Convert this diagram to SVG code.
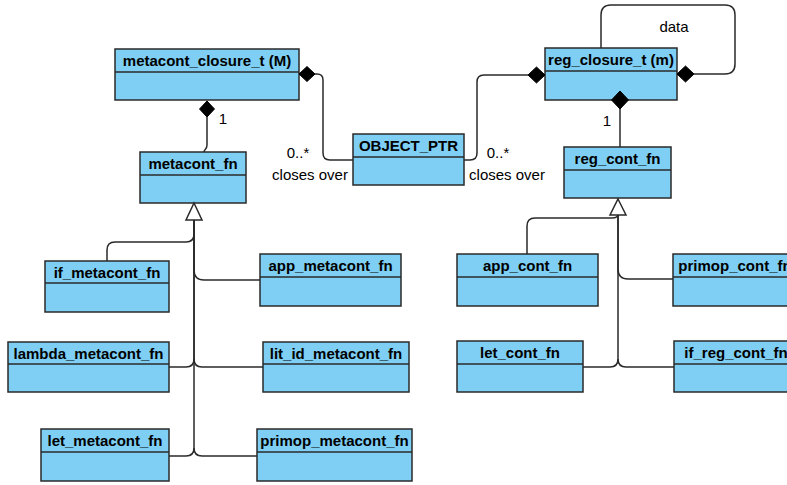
<svg xmlns="http://www.w3.org/2000/svg" width="787" height="485" viewBox="0 0 787 485">
<style>
.box{fill:#7ecff3;stroke:#2a2a2a;stroke-width:1.5}
.div{stroke:#2a2a2a;stroke-width:1.5}
.t{font-family:"Liberation Sans",Arial,sans-serif;font-weight:bold;font-size:15px;fill:#000;text-anchor:middle}
.l{font-family:"Liberation Sans",Arial,sans-serif;font-size:15px;fill:#000;text-anchor:middle}
.c{fill:none;stroke:#2a2a2a;stroke-width:1.5}
.dia{fill:#000;stroke:#000;stroke-width:1}
.tri{fill:#fff;stroke:#2a2a2a;stroke-width:1.5}
</style>
<rect width="787" height="485" fill="#fff"/>
<g id="metacont_closure_t"><rect class="box" x="115" y="49" width="184" height="51"/><line class="div" x1="115" y1="72" x2="299" y2="72"/><text class="t" x="207" y="66">metacont_closure_t (M)</text></g>
<g id="metacont_fn"><rect class="box" x="140" y="152" width="106" height="51"/><line class="div" x1="140" y1="175" x2="246" y2="175"/><text class="t" x="193" y="169">metacont_fn</text></g>
<g id="OBJECT_PTR"><rect class="box" x="353" y="134" width="111" height="51"/><line class="div" x1="353" y1="157" x2="464" y2="157"/><text class="t" x="408.5" y="151">OBJECT_PTR</text></g>
<g id="reg_closure_t"><rect class="box" x="545" y="48" width="132" height="52"/><line class="div" x1="545" y1="71" x2="677" y2="71"/><text class="t" x="611" y="65">reg_closure_t (m)</text></g>
<g id="reg_cont_fn"><rect class="box" x="564" y="147" width="107" height="51"/><line class="div" x1="564" y1="170" x2="671" y2="170"/><text class="t" x="617.5" y="164">reg_cont_fn</text></g>
<g id="if_metacont_fn"><rect class="box" x="45" y="261" width="124" height="51"/><line class="div" x1="45" y1="283" x2="169" y2="283"/><text class="t" x="107" y="278">if_metacont_fn</text></g>
<g id="app_metacont_fn"><rect class="box" x="260" y="254" width="141" height="52"/><line class="div" x1="260" y1="277" x2="401" y2="277"/><text class="t" x="330.5" y="271">app_metacont_fn</text></g>
<g id="lambda_metacont_fn"><rect class="box" x="8" y="342" width="161" height="50"/><line class="div" x1="8" y1="364" x2="169" y2="364"/><text class="t" x="88.5" y="359">lambda_metacont_fn</text></g>
<g id="lit_id_metacont_fn"><rect class="box" x="263" y="342" width="146" height="50"/><line class="div" x1="263" y1="364" x2="409" y2="364"/><text class="t" x="336" y="359">lit_id_metacont_fn</text></g>
<g id="let_metacont_fn"><rect class="box" x="41" y="429" width="128" height="52"/><line class="div" x1="41" y1="452" x2="169" y2="452"/><text class="t" x="105" y="446">let_metacont_fn</text></g>
<g id="primop_metacont_fn"><rect class="box" x="257" y="429" width="155" height="52"/><line class="div" x1="257" y1="452" x2="412" y2="452"/><text class="t" x="334.5" y="446">primop_metacont_fn</text></g>
<g id="app_cont_fn"><rect class="box" x="457" y="254" width="141" height="52"/><line class="div" x1="457" y1="277" x2="598" y2="277"/><text class="t" x="527.5" y="271">app_cont_fn</text></g>
<g id="primop_cont_fn"><rect class="box" x="673" y="254" width="124" height="52"/><line class="div" x1="673" y1="277" x2="797" y2="277"/><text class="t" x="735" y="271">primop_cont_fn</text></g>
<g id="let_cont_fn"><rect class="box" x="457" y="341" width="126" height="51"/><line class="div" x1="457" y1="364" x2="583" y2="364"/><text class="t" x="520" y="358">let_cont_fn</text></g>
<g id="if_reg_cont_fn"><rect class="box" x="674" y="341" width="124" height="51"/><line class="div" x1="674" y1="364" x2="798" y2="364"/><text class="t" x="736" y="358">if_reg_cont_fn</text></g>
<g id="connectors">
<path class="c" d="M207,117 V145 C207,150 204,149 204,152"/>
<path class="c" d="M315,74 H317 Q323,74 323,80 V153 Q323,160 330,160 H353"/>
<path class="c" d="M464,160 H470 Q477,160 477,153 V82 Q477,75 484,75 H528"/>
<path class="c" d="M694,74 H725 Q735,74 735,64 V15 Q735,5 725,5 H611 Q601,5 601,15 V48"/>
<path class="c" d="M620,109 V147"/>
<path class="c" d="M107,261 V250 Q107,242 115,242 H186 Q194,242 194,234 V220"/>
<path class="c" d="M260,280 H204 Q194,280 194,270 V220"/>
<path class="c" d="M169,367 H186 Q194,367 194,359 V220"/>
<path class="c" d="M263,367 H202 Q194,367 194,359"/>
<path class="c" d="M169,456 H186 Q194,456 194,448 V220"/>
<path class="c" d="M257,456 H202 Q194,456 194,448"/>
<path class="c" d="M527,254 V226 Q527,218 535,218 H612 Q618,218 618,214"/>
<path class="c" d="M673,279 H628 Q618,279 618,269 V215"/>
<path class="c" d="M583,367 H610 Q618,367 618,359 V215"/>
<path class="c" d="M674,367 H626 Q618,367 618,359"/>
<polygon class="dia" points="207,101 214.5,109 207,117 199.5,109"/>
<polygon class="dia" points="299,74 307,66.5 315,74 307,81.5"/>
<polygon class="dia" points="545,75 536.5,67 528,75 536.5,83"/>
<polygon class="dia" points="677,74 685.5,66 694,74 685.5,82"/>
<polygon class="dia" points="620,91 628.5,100 620,109 611.5,100"/>
<polygon class="tri" points="194,203 202,220 186,220"/>
<polygon class="tri" points="618,199 626,215 610,215"/>
<text class="l" x="223" y="124">1</text>
<text class="l" x="298" y="158">0..*</text>
<text class="l" x="310" y="180">closes over</text>
<text class="l" x="498" y="158">0..*</text>
<text class="l" x="507" y="180">closes over</text>
<text class="l" x="607" y="126">1</text>
<text class="l" x="674" y="32">data</text>
</g>
</svg>
